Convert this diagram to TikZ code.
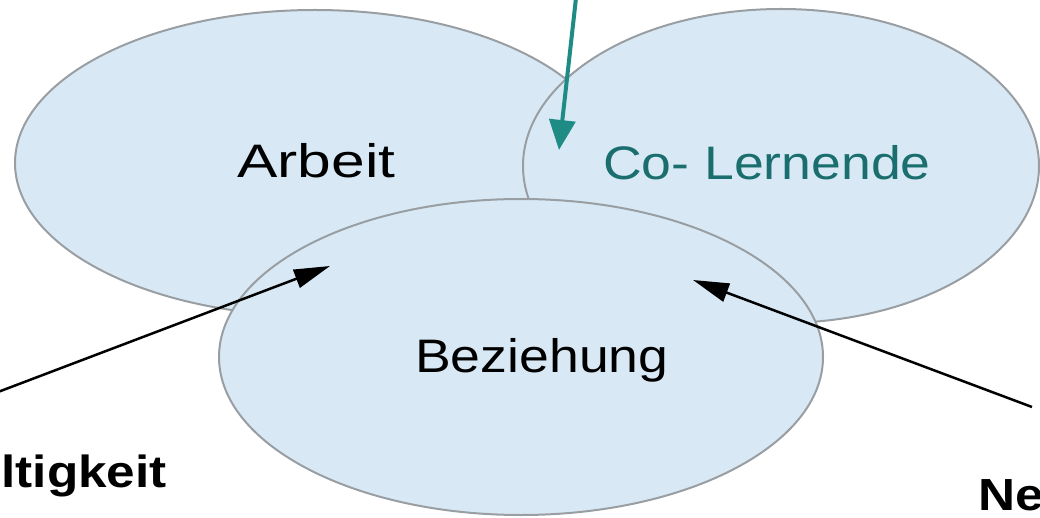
\documentclass[tikz,border=0pt]{standalone}
\usepackage{fontspec}
\newfontfamily\lsans[FakeStretch=1.14]{Liberation Sans}
\usetikzlibrary{arrows.meta}
\definecolor{ellfill}{HTML}{D8E9F5}
\definecolor{elldraw}{HTML}{999EA3}
\definecolor{tealtext}{HTML}{1A6E6E}
\definecolor{tealarrow}{HTML}{1E8C84}
\tikzset{
  setbox/.style={fill=ellfill, draw=elldraw, line width=2pt},
  lbl/.style={inner sep=0pt, font=\lsans\fontsize{47}{50}\selectfont},
  sidelbl/.style={inner sep=0pt, font=\lsans\bfseries\fontsize{45}{48}\selectfont},
  blackarrow/.style={draw=black, line width=2.5pt, -{Triangle[length=36pt,width=19pt]}},
  tealarr/.style={draw=tealarrow, line width=4pt, -{Triangle[length=30pt,width=26pt]}}
}
\begin{document}
\begin{tikzpicture}[x=1pt,y=-1pt]
\path[use as bounding box] (0,0) rectangle (1040,518);
% sets
\path[setbox] (315,163) ellipse [x radius=300, y radius=153];
\path[setbox] (781,166) ellipse [x radius=258, y radius=157];
\path[setbox] (521,357) ellipse [x radius=302, y radius=158];
% labels
\node[lbl, anchor=base west] (arbeit) at (237,178) {\scalebox{1.13}[1]{Arbeit}};
\node[lbl, anchor=base west, text=tealtext] (colern) at (603,180) {Co- Lernende};
\node[lbl, anchor=base west] (bez) at (415,372) {Beziehung};
\node[sidelbl, anchor=base east] (left) at (167,487) {ltigkeit};
\node[sidelbl, anchor=base west] (right) at (978,510) {Ne};
% arrow ends
\coordinate (tealstart) at (576,-2);
\coordinate (tealtip) at (559,150);
\coordinate (lstart) at (-2,392);
\coordinate (ltip) at (330,266);
\coordinate (rstart) at (1032,407);
\coordinate (rtip) at (693,280);
\draw[tealarr] (tealstart) -- (tealtip);
\draw[blackarrow] (lstart) -- (ltip);
\draw[blackarrow] (rstart) -- (rtip);
\end{tikzpicture}
\end{document}
